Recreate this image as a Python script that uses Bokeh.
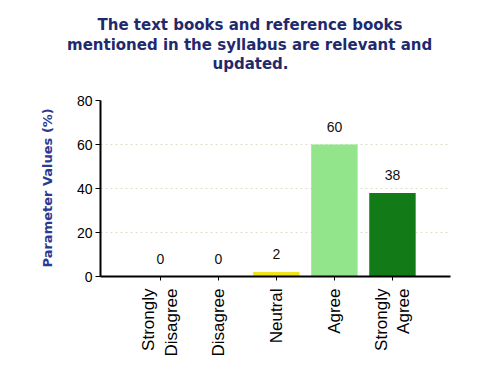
from bokeh.plotting import figure
from bokeh.models import Range1d, FixedTicker, ColumnDataSource, Title
from bokeh.embed import file_html
from bokeh.resources import INLINE
from bokeh.core.properties import value
import math

title_lines = ["The text books and reference books",
               "mentioned in the syllabus are relevant and",
               "updated."]
y_label = "Parameter Values (%)"
categories = ["Strongly\nDisagree", "Disagree", "Neutral", "Agree", "Strongly\nAgree"]
values = [0, 0, 2, 60, 38]
colors = ["#c8c800", "#c8c800", "#f2e21a", "#92e58a", "#137a18"]
y_ticks = [0, 20, 40, 60, 80]

xs = list(range(len(categories)))
src = ColumnDataSource(dict(x=xs, top=values, color=colors,
                            label=[str(v) for v in values]))

# layout geometry (pixels)
W, H = 482, 389
FL, FR, FT, FB = 100, 450, 53, 276          # frame edges on the canvas
px_per_unit = (FB - 100) / 80.0             # value 80 sits at y = 100 px
x0, x1 = -1.03, 5.0
y_end = (FB - FT) / px_per_unit

p = figure(width=W, height=H, output_backend="svg", toolbar_location=None,
           x_range=Range1d(x0, x1), y_range=Range1d(0, y_end),
           min_border_left=FL, min_border_right=W - FR,
           min_border_top=FT, min_border_bottom=H - FB)

# first two title lines as stacked titles, centred on x = 250 px
line_widths = [306, 367]   # approx rendered widths in px
for line, w in reversed(list(zip(title_lines[:2], line_widths))):
    p.add_layout(Title(text=line, align="left", offset=150 - w / 2,
                       standoff=0, text_font="DejaVu Sans", text_font_size="15px",
                       text_font_style="bold", text_color="#1f2a6e"), "above")

# last title line inside the (extended) frame, above the axis end
tx = x0 + (250 - FL) / (FR - FL) * (x1 - x0)
ty = (FB - 63) / px_per_unit
p.text(x=[tx], y=[ty], text=[title_lines[2]], text_align="center",
       text_baseline="middle", text_font=value("DejaVu Sans"),
       text_font_size="15px", text_font_style="bold", text_color="#1f2a6e")

# y axis title, placed along the 0..80 part of the axis
p.add_layout(Title(text=y_label, align="left", offset=9, standoff=38,
                   vertical_align="bottom", text_font="DejaVu Sans",
                   text_font_size="13px", text_font_style="bold",
                   text_color="#2a3a94"), "left")

p.vbar(x="x", top="top", width=0.8, color="color", line_color=None, source=src)
p.text(x="x", y="top", text="label", source=src, text_align="center",
       text_baseline="bottom", y_offset=-13, text_font=value("Liberation Sans"),
       text_font_size="14px", text_color="#111111")

p.outline_line_color = None
p.background_fill_color = "white"
p.border_fill_color = "white"

p.xgrid.visible = False
p.ygrid.ticker = FixedTicker(ticks=y_ticks[1:-1])
p.ygrid.grid_line_color = "#dcdcc8"
p.ygrid.grid_line_dash = "2 3"

p.xaxis.ticker = FixedTicker(ticks=xs)
p.xaxis.major_label_overrides = {i: c for i, c in enumerate(categories)}
p.xaxis.major_label_orientation = math.pi / 2
p.xaxis.minor_tick_line_color = None
p.xaxis.major_tick_out = 4
p.xaxis.major_tick_in = 0
p.xaxis.axis_line_width = 2
p.xaxis.axis_line_color = "black"
p.xaxis.major_label_text_font = "Liberation Sans"
p.xaxis.major_label_text_font_size = "17px"
p.xaxis.major_label_text_color = "black"
p.xaxis.major_label_standoff = 8

p.yaxis.ticker = FixedTicker(ticks=y_ticks)
p.yaxis.bounds = (y_ticks[0], y_ticks[-1])
p.yaxis.minor_tick_line_color = None
p.yaxis.major_tick_out = 5
p.yaxis.major_tick_in = 0
p.yaxis.axis_line_width = 2
p.yaxis.axis_line_color = "black"
p.yaxis.major_label_text_font = "Liberation Sans"
p.yaxis.major_label_text_font_size = "14px"
p.yaxis.major_label_text_color = "black"
p.yaxis.major_label_standoff = 3

open("out.html", "w").write(file_html(p, INLINE))
